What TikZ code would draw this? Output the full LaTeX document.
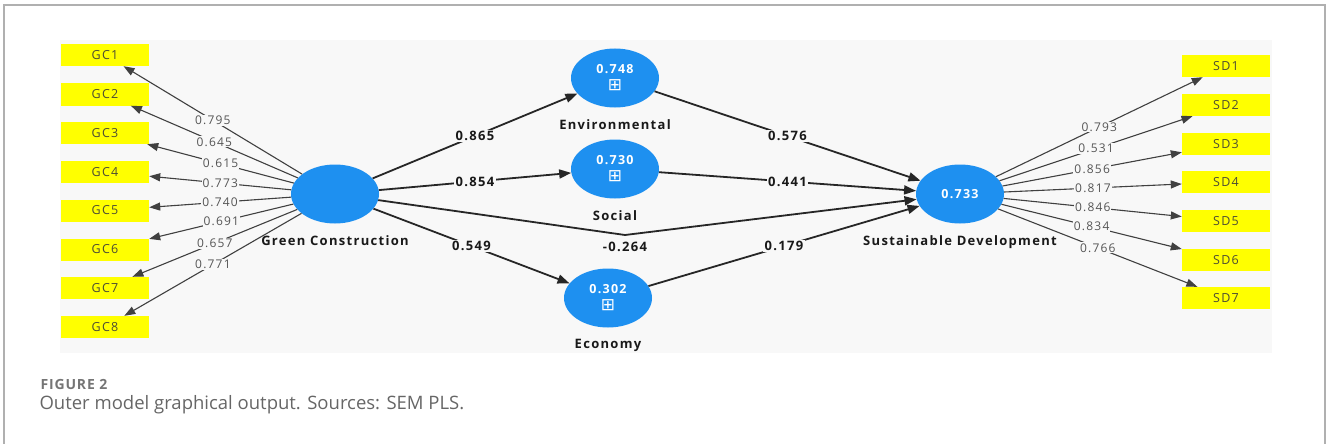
\documentclass[tikz,border=0pt]{standalone}
\usepackage{fontspec}
\setmainfont{Open Sans}
\newfontfamily\plsfont[LetterSpace=10]{Open Sans}
\newfontfamily\capfont[LetterSpace=6]{Open Sans}
\newfontfamily\symfont{DejaVu Sans}
\usetikzlibrary{arrows.meta,positioning,shapes.geometric}

\definecolor{plsblue}{HTML}{1E90F0}
\definecolor{panelgray}{HTML}{F8F8F8}
\definecolor{itemyellow}{HTML}{FFFF00}
\definecolor{itemtext}{HTML}{4D4D33}
\definecolor{loadgray}{HTML}{555555}
\definecolor{linegray}{HTML}{404040}
\definecolor{framegray}{HTML}{B0B0B0}
\definecolor{captiongray}{HTML}{666666}

\begin{document}
\begin{tikzpicture}[x=1pt, y=-1pt,
    latent/.style={ellipse, fill=plsblue, minimum width=88pt, minimum height=59pt, inner sep=0pt, align=center, text=white, font={\fontsize{12.5}{14}\selectfont\plsfont\bfseries}},
    item/.style={rectangle, fill=itemyellow, minimum width=88pt, minimum height=22pt, inner sep=0pt, text=itemtext, font={\fontsize{12.5}{14}\selectfont\plsfont}},
    lvname/.style={font={\fontsize{13}{15}\selectfont\plsfont\bfseries}, text=black!90},
    loading/.style={fill=panelgray, inner sep=1pt, text=loadgray, font={\fontsize{12}{14}\selectfont\plsfont}},
    coef/.style={fill=panelgray, inner sep=1.5pt, text=black!90, font={\fontsize{13}{15}\selectfont\plsfont\bfseries}},
    outer/.style={draw=linegray, line width=1.1pt, -{Triangle[length=11pt,width=8pt]}},
    inner/.style={draw=black!85, line width=1.8pt, -{Triangle[length=12pt,width=9pt]}}
]
\useasboundingbox (0,0) rectangle (1328,444);

% Frame and SmartPLS canvas
\draw[framegray, line width=1.5pt] (4,444) -- (4,5) -- (1325,5) -- (1325,444);
\fill[panelgray] (60,40) rectangle (1272,353);

% Latent variables
\node[latent] (gc) at (335,194) {};
\node[latent] (env) at (615,78) {0.748\\[3pt]{\symfont\mdseries\fontsize{17}{17}\selectfont ⊞}};
\node[latent] (soc) at (615,169) {0.730\\[3pt]{\symfont\mdseries\fontsize{17}{17}\selectfont ⊞}};
\node[latent] (eco) at (608,298) {0.302\\[3pt]{\symfont\mdseries\fontsize{17}{17}\selectfont ⊞}};
\node[latent] (sd) at (960,194) {0.733};

% Latent variable names
\node[lvname, below=8pt of gc] (gcname) {Green Construction};
\node[lvname, below=8pt of env] (envname) {Environmental};
\node[lvname, below=8pt of soc] (socname) {Social};
\node[lvname, below=8pt of eco] (econame) {Economy};
\node[lvname, below=8pt of sd] (sdname) {Sustainable Development};

% Green Construction indicators
\node[item] (gc1) at (105,55) {GC1};
\node[item] (gc2) at (105,94.5) {GC2};
\node[item] (gc3) at (105,133) {GC3};
\node[item] (gc4) at (105,172) {GC4};
\node[item] (gc5) at (105,210.5) {GC5};
\node[item] (gc6) at (105,249.5) {GC6};
\node[item] (gc7) at (105,288) {GC7};
\node[item] (gc8) at (105,327) {GC8};

% Sustainable Development indicators
\node[item] (sd1) at (1226,66) {SD1};
\node[item] (sd2) at (1226,105) {SD2};
\node[item] (sd3) at (1226,144) {SD3};
\node[item] (sd4) at (1226,182) {SD4};
\node[item] (sd5) at (1226,221) {SD5};
\node[item] (sd6) at (1226,260) {SD6};
\node[item] (sd7) at (1226,298) {SD7};

% Outer loadings
\draw[outer] (gc) -- node[loading] {0.795} (gc1);
\draw[outer] (gc) -- node[loading] {0.645} (gc2);
\draw[outer] (gc) -- node[loading] {0.615} (gc3);
\draw[outer] (gc) -- node[loading] {0.773} (gc4);
\draw[outer] (gc) -- node[loading] {0.740} (gc5);
\draw[outer] (gc) -- node[loading] {0.691} (gc6);
\draw[outer] (gc) -- node[loading] {0.657} (gc7);
\draw[outer] (gc) -- node[loading] {0.771} (gc8);

\draw[outer] (sd) -- node[loading] {0.793} (sd1);
\draw[outer] (sd) -- node[loading] {0.531} (sd2);
\draw[outer] (sd) -- node[loading] {0.856} (sd3);
\draw[outer] (sd) -- node[loading] {0.817} (sd4);
\draw[outer] (sd) -- node[loading] {0.846} (sd5);
\draw[outer] (sd) -- node[loading] {0.834} (sd6);
\draw[outer] (sd) -- node[loading] {0.766} (sd7);

% Path coefficients
\draw[inner] (gc) -- node[coef] {0.865} (env);
\draw[inner] (gc) -- node[coef] {0.854} (soc);
\draw[inner] (gc) -- node[coef] {0.549} (eco);
\draw[inner] (env) -- node[coef] {0.576} (sd);
\draw[inner] (soc) -- node[coef] {0.441} (sd);
\draw[inner] (eco) -- node[coef] {0.179} (sd);

% Direct effect
\coordinate (bend) at (625,235);
\draw[inner] (gc) -- (bend) -- (sd);
\node[coef, fill=none, below=5pt of bend] (direct) {-0.264};

% Caption
\node[anchor=west, text=captiongray!90, font={\fontsize{14}{16}\selectfont\capfont\bfseries}] (fig) at (37,384.5) {FIGURE 2};
\node[anchor=west, text=captiongray, font={\fontsize{18.5}{20}\selectfont}] (cap) at (36,405) {Outer model graphical output. Sources: SEM PLS.};

\end{tikzpicture}
\end{document}
